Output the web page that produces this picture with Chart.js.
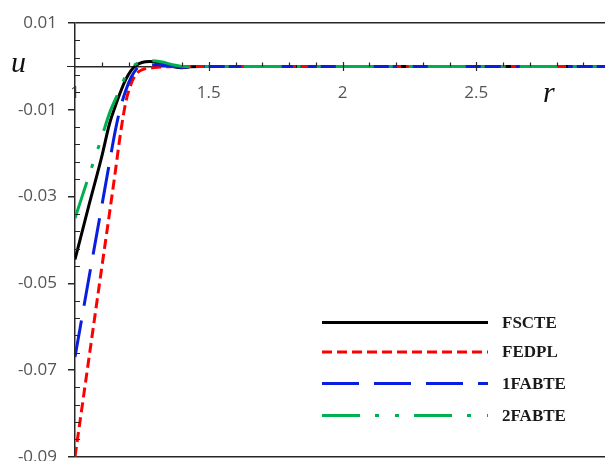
<!DOCTYPE html>
<html>
<head>
<meta charset="utf-8">
<script src="https://cdn.jsdelivr.net/npm/chart.js@4/dist/chart.umd.min.js"></script>
<style>
  html, body { margin: 0; padding: 0; background: #fff; overflow: hidden; }
  #wrap { width: 605px; height: 461px; overflow: hidden; }
</style>
</head>
<body>
<div id="wrap"><canvas id="c" width="615" height="478"></canvas></div>
<script>
// radial coordinate r shared by all four solutions
const r = [1.00, 1.05, 1.10, 1.13, 1.15, 1.17, 1.19, 1.21, 1.23, 1.25, 1.28, 1.31, 1.34, 1.37, 1.40, 1.43, 1.47, 1.5, 2, 2.5, 3];

// displacement u(r) for each model
const uFSCTE  = [-0.0445, -0.0325, -0.0208, -0.0130, -0.0093, -0.0059, -0.0030, -0.0009, 0.0003, 0.0009, 0.0011, 0.0009, 0.0004, -0.0001, -0.0003, -0.0001, 0, 0, 0, 0, 0];
const uFEDPL  = [-0.0900, -0.0682, -0.0464, -0.0334, -0.0246, -0.0155, -0.0082, -0.0040, -0.0017, -0.0008, -0.0004, -0.0002, -0.0001, 0.0000, -0.0002, 0, 0, 0, 0, 0, 0];
const u1FABTE = [-0.0670, -0.0495, -0.0322, -0.0218, -0.0150, -0.0095, -0.0055, -0.0025, -0.0006, 0.0000, 0.0003, 0.0004, 0.0002, 0.0000, -0.0002, -0.0001, 0, 0, 0, 0, 0];
const u2FABTE = [-0.0350, -0.0256, -0.0163, -0.0106, -0.0077, -0.0050, -0.0021, -0.0003, 0.0006, 0.0010, 0.0013, 0.0012, 0.0008, 0.0003, 0.0000, -0.0001, 0, 0, 0, 0, 0];

const seriesNames = ['FSCTE', 'FEDPL', '1FABTE', '2FABTE'];

// axis ticks
const xTicks = [1, 1.5, 2, 2.5];
const yTicks = [0.01, -0.01, -0.03, -0.05, -0.07, -0.09];

const toPoints = u => r.map((x, i) => ({ x: x, y: u[i] }));

const LABEL_GREY = '#555555';
const AXIS = '#262626';

const decor = {
  id: 'decor',
  afterDraw(chart) {
    const ctx = chart.ctx;
    const xs = chart.scales.x, ys = chart.scales.y;
    const area = chart.chartArea;
    const y0 = ys.getPixelForValue(0);
    ctx.save();
    ctx.strokeStyle = AXIS;
    ctx.lineWidth = 1.2;
    ctx.setLineDash([]);
    ctx.beginPath();
    // minor ticks on the r axis (above the line), crossing majors
    for (let k = 11; k < 30; k++) {
      const v = k / 10;
      const px = Math.round(xs.getPixelForValue(v)) + 0.5;
      if (k % 5 === 0) { ctx.moveTo(px, y0 - 4.5); ctx.lineTo(px, y0 + 4.5); }
      else { ctx.moveTo(px, y0 - 4); ctx.lineTo(px, y0); }
    }
    // minor ticks on the u axis (inside)
    for (let k = -45; k <= 5; k++) {
      if (k % 5 === 0) continue;
      if ((k + 45) % 2 !== 0) continue;
      const py = Math.round(ys.getPixelForValue(k * 0.002)) + 0.5;
      ctx.moveTo(area.left, py); ctx.lineTo(area.left + 5, py);
    }
    // short tick at u = 0 left of the axis
    ctx.moveTo(area.left - 8, Math.round(y0) + 0.5); ctx.lineTo(area.left, Math.round(y0) + 0.5);
    ctx.stroke();

    // axis titles
    ctx.fillStyle = '#111';
    ctx.font = 'italic 30px "Liberation Serif"';
    ctx.textAlign = 'left';
    ctx.textBaseline = 'alphabetic';
    ctx.fillText('u', 11, 72);
    ctx.fillText('r', 543, 102);

    // legend
    const rows = [322.5, 352, 383.5, 415.5];
    chart.data.datasets.forEach((ds, i) => {
      const yy = rows[i];
      ctx.strokeStyle = ds.borderColor;
      ctx.lineWidth = ds.borderWidth;
      ctx.setLineDash(ds.borderDash || []);
      ctx.lineCap = 'butt';
      ctx.beginPath();
      ctx.moveTo(322, yy); ctx.lineTo(488, yy);
      ctx.stroke();
      ctx.setLineDash([]);
      ctx.fillStyle = '#1a1a1a';
      ctx.font = 'bold 17px "Liberation Serif"';
      ctx.textBaseline = 'middle';
      ctx.fillText(ds.label, 502, yy + 1);
    });
    ctx.restore();
  }
};

new Chart(document.getElementById('c'), {
  type: 'line',
  data: {
    datasets: [
      { label: seriesNames[0], data: toPoints(uFSCTE),  borderColor: '#000000', borderWidth: 3, borderDash: [], order: 3 },
      { label: seriesNames[1], data: toPoints(uFEDPL),  borderColor: '#ff0000', borderWidth: 3, borderDash: [10, 5], order: 2 },
      { label: seriesNames[2], data: toPoints(u1FABTE), borderColor: '#0a1ee0', borderWidth: 3, borderDash: [37, 15], order: 1 },
      { label: seriesNames[3], data: toPoints(u2FABTE), borderColor: '#00b050', borderWidth: 3, borderDash: [38, 15, 4, 16, 4, 15], order: 0 }
    ]
  },
  options: {
    responsive: false,
    animation: false,
    devicePixelRatio: 1,
    layout: { padding: { top: 23, right: 5, bottom: 4, left: 0 } },
    elements: {
      point: { radius: 0 },
      line: { cubicInterpolationMode: 'monotone', fill: false, borderCapStyle: 'butt' }
    },
    plugins: { legend: { display: false }, tooltip: { enabled: false } },
    scales: {
      x: {
        type: 'linear',
        min: 1, max: 3,
        position: { y: 0 },
        afterBuildTicks: s => { s.ticks = xTicks.map(v => ({ value: v })); },
        ticks: {
          callback: v => String(v),
          font: { family: '"Open Sans"', size: 17 },
          color: LABEL_GREY,
          padding: 17,
          maxRotation: 0,
          autoSkip: false
        },
        grid: { display: false, drawTicks: false },
        border: { display: true, color: AXIS, width: 1.5 }
      },
      y: {
        type: 'linear',
        min: -0.09, max: 0.01,
        afterBuildTicks: s => { s.ticks = yTicks.map(v => ({ value: v })); },
        afterFit: s => { s.width = 75; },
        ticks: {
          callback: v => v.toFixed(2),
          font: { family: '"Open Sans"', size: 17 },
          color: LABEL_GREY,
          padding: 11,
          autoSkip: false
        },
        grid: {
          drawOnChartArea: true,
          drawTicks: true,
          tickLength: 7,
          tickColor: AXIS,
          lineWidth: 1.5,
          color: c => (c.tick && (Math.abs(c.tick.value - 0.01) < 1e-9 || Math.abs(c.tick.value + 0.09) < 1e-9)) ? AXIS : 'rgba(0,0,0,0)'
        },
        border: { display: true, color: AXIS, width: 1.5 }
      }
    }
  },
  plugins: [decor]
});
</script>
</body>
</html>
